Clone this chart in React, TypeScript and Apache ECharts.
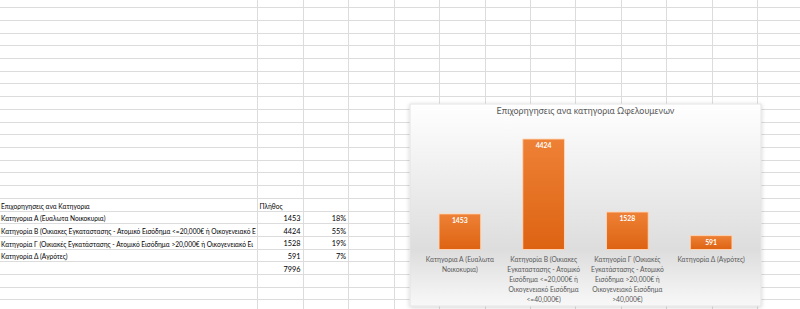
import React, { useEffect, useRef } from "react";
import * as echarts from "echarts";

const chartTitle = "Επιχορηγησεις ανα κατηγορια Ωφελουμενων";
const categories = [
  "Κατηγορια Α (Ευαλωτα\nΝοικοκυρια)",
  "Κατηγορία Β (Οικιακες\nΕγκαταστασης - Ατομικό\nΕισόδημα <=20,000€ ή\nΟικογενειακό Εισόδημα\n<=40,000€)",
  "Κατηγορία Γ (Οικιακές\nΕγκατάστασης - Ατομικό\nΕισόδημα >20,000€ ή\nΟικογενειακό Εισόδημα\n>40,000€)",
  "Κατηγορία Δ (Αγρότες)",
];
const counts = [1453, 4424, 1528, 591];

const tableHeader = "Επιχορηγησεις ανα Κατηγορια";
const countHeader = "Πλήθος";
const tableCategories = [
  "Κατηγορια Α (Ευαλωτα Νοικοκυρια)",
  "Κατηγορία Β (Οικιακες Εγκαταστασης - Ατομικό Εισόδημα <=20,000€ ή Οικογενειακό Εισόδημα <=40,000€)",
  "Κατηγορία Γ (Οικιακές Εγκατάστασης - Ατομικό Εισόδημα >20,000€ ή Οικογενειακό Εισόδημα >40,000€)",
  "Κατηγορία Δ (Αγρότες)",
];
const shares = ["18%", "55%", "19%", "7%"];
const total = 7996;

const FONT = "Lato, 'Noto Sans', sans-serif";
const ROW0 = 7.3;
const ROWH = 12.7;
const COL0 = 257.3;
const COLW = 45.45;

function rowY(k: number) {
  return ROW0 + ROWH * (k + 0.5) + 1.5;
}

let ctx: CanvasRenderingContext2D | null = null;
function measure(text: string, size: number, weight = "normal") {
  if (!ctx) ctx = document.createElement("canvas").getContext("2d");
  if (!ctx) return text.length * size * 0.5;
  ctx.font = `${weight} ${size}px ${FONT}`;
  return ctx.measureText(text).width;
}
function fitSize(text: string, target: number, weight = "normal") {
  return Math.round((10 * target) / measure(text, 10, weight) * 10) / 10;
}
function clip(text: string, size: number, maxW: number) {
  let t = text;
  while (t.length > 0 && measure(t, size) > maxW) t = t.slice(0, -1);
  return t;
}

export default function App() {
  const ref = useRef<HTMLDivElement>(null);
  useEffect(() => {
    if (!ref.current) return;
    const chart = echarts.init(ref.current, null, { renderer: "svg" });
    const tableSize = fitSize(tableHeader, 89);
    const numSize = Math.min(fitSize("1453", 17), tableSize * 1.3);
    const titleSize = fitSize(chartTitle, 178);
    const labelSize = fitSize("Εγκατάστασης - Ατομικό", 72.7);
    const valueSize = fitSize("4424", 16, "bold");

    const graphics: any[] = [];
    for (let k = 0; k < 24; k++) {
      const y = Math.round(ROW0 + ROWH * k) + 0.5;
      graphics.push({
        type: "line",
        z: -20,
        shape: { x1: 0, y1: y, x2: 800, y2: y },
        style: { stroke: "#dcdcdc", lineWidth: 1 },
      });
    }
    for (let i = 0; i < 12; i++) {
      const x = Math.round(COL0 + COLW * i) + 0.5;
      graphics.push({
        type: "line",
        z: -20,
        shape: { x1: x, y1: 0, x2: x, y2: 309 },
        style: { stroke: "#dcdcdc", lineWidth: 1 },
      });
    }
    const cellText = (text: string, x: number, y: number, align: string, size: number) => ({
      type: "text",
      z: -15,
      style: {
        text,
        x,
        y,
        fill: "#000000",
        font: `${size}px ${FONT}`,
        align,
        verticalAlign: "middle",
      },
    });
    const hdrRow = 15;
    graphics.push(cellText(tableHeader, 1, rowY(hdrRow), "left", tableSize));
    graphics.push(cellText(countHeader, 259.5, rowY(hdrRow), "left", tableSize));
    tableCategories.forEach((c, i) => {
      const r = hdrRow + 1 + i;
      graphics.push(cellText(clip(c, tableSize, 256), 1, rowY(r), "left", tableSize));
      graphics.push(cellText(String(counts[i]), 300.5, rowY(r), "right", numSize));
      graphics.push(cellText(shares[i], 346, rowY(r), "right", numSize));
    });
    graphics.push(
      cellText(String(total), 300.5, rowY(hdrRow + 1 + tableCategories.length), "right", numSize)
    );

    graphics.push({
      type: "rect",
      z: -10,
      shape: { x: 410, y: 104, width: 351, height: 202 },
      style: {
        fill: new echarts.graphic.LinearGradient(0, 0, 0, 1, [
          { offset: 0, color: "#ffffff" },
          { offset: 0.15, color: "#f8f8f8" },
          { offset: 0.72, color: "#dddddd" },
          { offset: 1, color: "#f8f8f8" },
        ]),
        stroke: "#e4e4e4",
        lineWidth: 1,
        shadowBlur: 4,
        shadowColor: "rgba(0,0,0,0.18)",
        shadowOffsetX: 0,
        shadowOffsetY: 1,
      },
    });

    chart.setOption({
      animation: false,
      title: {
        text: chartTitle,
        left: 585.5,
        top: 111.7 - titleSize * 0.6,
        textAlign: "center",
        padding: 0,
        textStyle: { fontFamily: FONT, fontSize: titleSize, fontWeight: "normal", color: "#595959" },
      },
      graphic: { elements: graphics },
      grid: { left: 418, width: 335, top: 124, height: 126, containLabel: false },
      xAxis: {
        type: "category",
        data: categories,
        axisLine: { show: false },
        axisTick: { show: false },
        axisLabel: {
          interval: 0,
          color: "#595959",
          fontFamily: FONT,
          fontSize: labelSize,
          lineHeight: 9.8,
          margin: 4.5,
        },
      },
      yAxis: { type: "value", min: 0, max: 5000, show: false, splitLine: { show: false } },
      series: [
        {
          type: "bar",
          data: counts,
          barWidth: "51%",
          itemStyle: {
            color: new echarts.graphic.LinearGradient(0, 0, 0, 1, [
              { offset: 0, color: "#ee8136" },
              { offset: 1, color: "#dd6312" },
            ]),
            borderColor: "rgba(255,215,185,0.9)",
            borderWidth: 1,
          },
          label: {
            show: true,
            position: "insideTop",
            distance: 3,
            color: "#ffffff",
            fontFamily: FONT,
            fontWeight: "bold",
            fontSize: valueSize,
          },
        },
      ],
    });
    return () => chart.dispose();
  }, []);
  return (
    <div
      ref={ref}
      style={{ position: "absolute", left: 0, top: 0, width: 800, height: 309, background: "#ffffff" }}
    />
  );
}
